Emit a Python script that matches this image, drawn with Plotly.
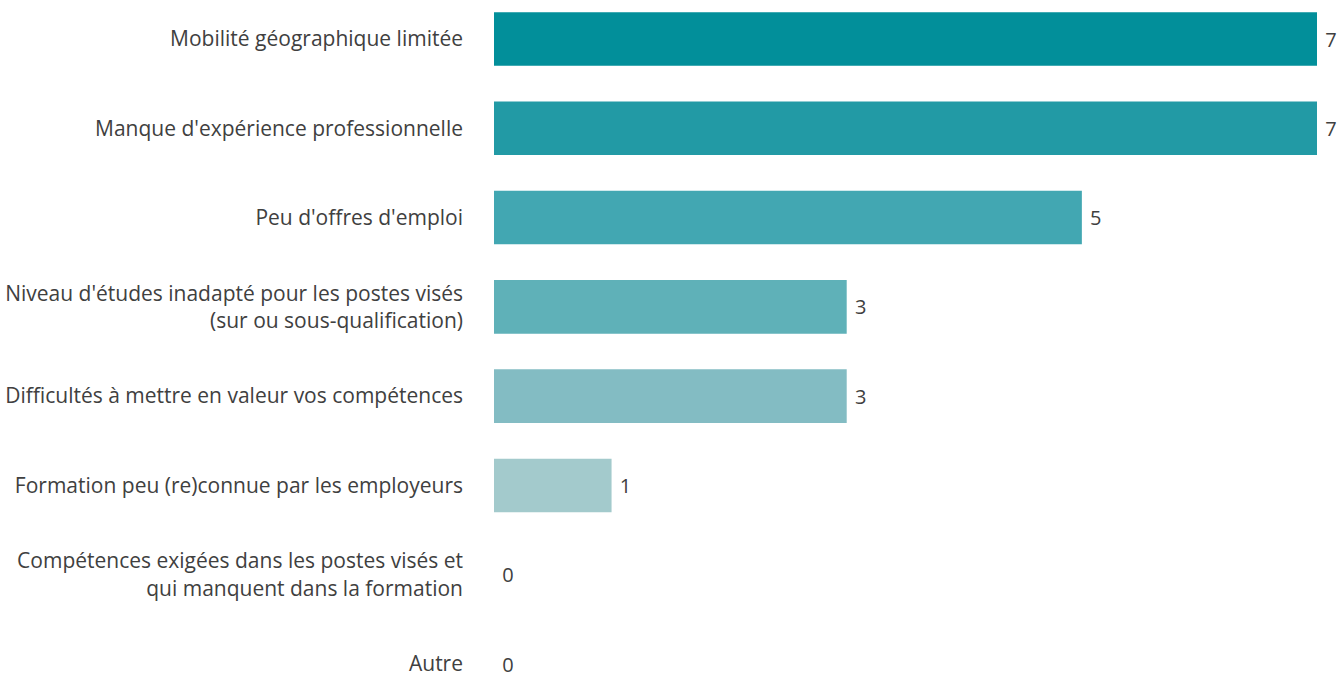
import plotly.graph_objects as go

categories = [
    "Mobilité géographique limitée",
    "Manque d'expérience professionnelle",
    "Peu d'offres d'emploi",
    "Niveau d'études inadapté pour les postes visés<br>(sur ou sous-qualification)",
    "Difficultés à mettre en valeur vos compétences",
    "Formation peu (re)connue par les employeurs",
    "Compétences exigées dans les postes visés et<br>qui manquent dans la formation",
    "Autre",
]
values = [7, 7, 5, 3, 3, 1, 0, 0]
colors = ["#028F9A", "#229AA5", "#42A7B2", "#5FB1B8", "#83BCC3", "#A3CACC", "#B8D4D6", "#C8DCDD"]

fig = go.Figure(
    go.Bar(
        x=values,
        y=categories,
        orientation="h",
        marker=dict(color=colors, line=dict(width=0)),
        text=["\u00a0" + str(v) for v in values],
        textposition="outside",
        textfont=dict(family="Open Sans", size=20, color="#404040"),
        cliponaxis=False,
        width=0.6,
        hoverinfo="skip",
    )
)

fig.update_layout(
    width=1341,
    height=679,
    margin=dict(l=494, r=24, t=0, b=0),
    paper_bgcolor="white",
    plot_bgcolor="white",
    showlegend=False,
    font=dict(family="Open Sans", size=21, color="#404040"),
    xaxis=dict(range=[0, 7], visible=False, fixedrange=True),
    yaxis=dict(
        type="category",
        range=[7.168, -0.4368],
        showgrid=False,
        showline=False,
        zeroline=False,
        automargin=False,
        fixedrange=True,
        ticks="",
        ticklabelstandoff=30,
        tickfont=dict(family="Open Sans", size=21, color="#404040"),
    ),
)

fig.write_html(
    "out.html",
    config={"displayModeBar": False, "staticPlot": True},
    post_script="document.body.style.margin='0';document.body.style.overflow='hidden';",
)
